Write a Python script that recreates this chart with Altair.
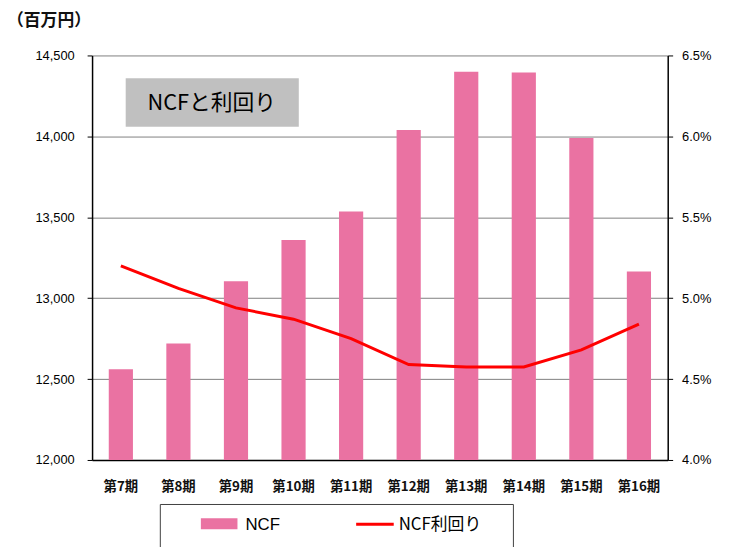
import altair as alt
import pandas as pd

periods = ["第7期", "第8期", "第9期", "第10期", "第11期", "第12期", "第13期", "第14期", "第15期", "第16期"]
ncf = [12560, 12720, 13105, 13360, 13535, 14040, 14400, 14395, 13990, 13165]
ncf_yield = [5.20, 5.06, 4.94, 4.87, 4.75, 4.59, 4.575, 4.575, 4.68, 4.84]
left_ticks = [12000, 12500, 13000, 13500, 14000, 14500]
right_ticks = [4.0, 4.5, 5.0, 5.5, 6.0, 6.5]

df = pd.DataFrame({"period": periods, "ncf": ncf, "yield": ncf_yield})

JP = "Noto Sans CJK JP"
LAT = "Liberation Sans"
BAR_COLOR = "#ea72a2"

xenc = alt.X("period:N", sort=periods, title=None,
             scale=alt.Scale(paddingInner=0.58, paddingOuter=0.29),
             axis=alt.Axis(labelAngle=0, ticks=False, domainColor="black", domainWidth=1.5,
                           labelFont=JP, labelFontSize=13.5, labelFontWeight="bold",
                           labelColor="#111111", labelPadding=20))

bars = alt.Chart(df).mark_bar(color=BAR_COLOR, clip=True).encode(
    x=xenc,
    y=alt.Y("ncf:Q", title=None,
            scale=alt.Scale(domain=[12000, 14500], nice=False, zero=False),
            axis=alt.Axis(values=left_ticks, format=",.0f", orient="left",
                          domainColor="black", domainWidth=1.5, tickColor="black", tickSize=5,
                          grid=True, gridColor="#808080", gridWidth=1,
                          labelFont=LAT, labelFontSize=13, labelColor="black", labelPadding=13)),
)

line = alt.Chart(df).mark_line(color="#ff0000", strokeWidth=3).encode(
    x=alt.X("period:N", sort=periods),
    y=alt.Y("yield:Q", title=None,
            scale=alt.Scale(domain=[4.0, 6.5], nice=False, zero=False),
            axis=alt.Axis(values=right_ticks, orient="right",
                          labelExpr="format(datum.value, '.1f') + '%'",
                          domainColor="black", domainWidth=1.5, tickColor="black", tickSize=5,
                          grid=False,
                          labelFont=LAT, labelFontSize=13, labelColor="black", labelPadding=9)),
)

one = alt.Data(values=[{"a": 1}])

unit_text = alt.Chart(one).mark_text(text="（百万円）", font=JP, fontSize=17, fontWeight="bold",
                                     align="left", baseline="middle", color="#111111").encode(
    x=alt.value(-86), y=alt.value(-35))

title_box = alt.Chart(one).mark_rect(color="#c0c0c0").encode(
    x=alt.value(34), x2=alt.value(209), y=alt.value(23), y2=alt.value(72))
title_text = alt.Chart(one).mark_text(text="NCFと利回り", font=JP, fontSize=22,
                                      align="center", baseline="middle", color="black").encode(
    x=alt.value(121), y=alt.value(48))

legend_box = alt.Chart(one).mark_rect(fill="white", stroke="#404040", strokeWidth=1).encode(
    x=alt.value(69), x2=alt.value(426), y=alt.value(454), y2=alt.value(520))
legend_swatch = alt.Chart(one).mark_rect(color=BAR_COLOR).encode(
    x=alt.value(110), x2=alt.value(147), y=alt.value(468), y2=alt.value(479))
legend_t1 = alt.Chart(one).mark_text(text="NCF", font=LAT, fontSize=17, align="left",
                                     baseline="middle", color="black").encode(
    x=alt.value(155), y=alt.value(475))
legend_line = alt.Chart(one).mark_rule(color="#ff0000", strokeWidth=3).encode(
    x=alt.value(267), x2=alt.value(305), y=alt.value(474))
legend_t2 = alt.Chart(one).mark_text(text="NCF利回り", font=JP, fontSize=17, align="left",
                                     baseline="middle", color="black").encode(
    x=alt.value(310), y=alt.value(475))

chart = alt.layer(
    bars, line, unit_text, title_box, title_text,
    legend_box, legend_swatch, legend_t1, legend_line, legend_t2
).resolve_scale(y="independent").properties(
    width=582, height=409,
    autosize=alt.AutoSizeParams(type="none"),
    padding={"left": 85, "top": 45, "right": 65, "bottom": 85},
).configure_view(stroke="transparent")

chart.save("out.html", embed_options={"renderer": "svg", "actions": False})
